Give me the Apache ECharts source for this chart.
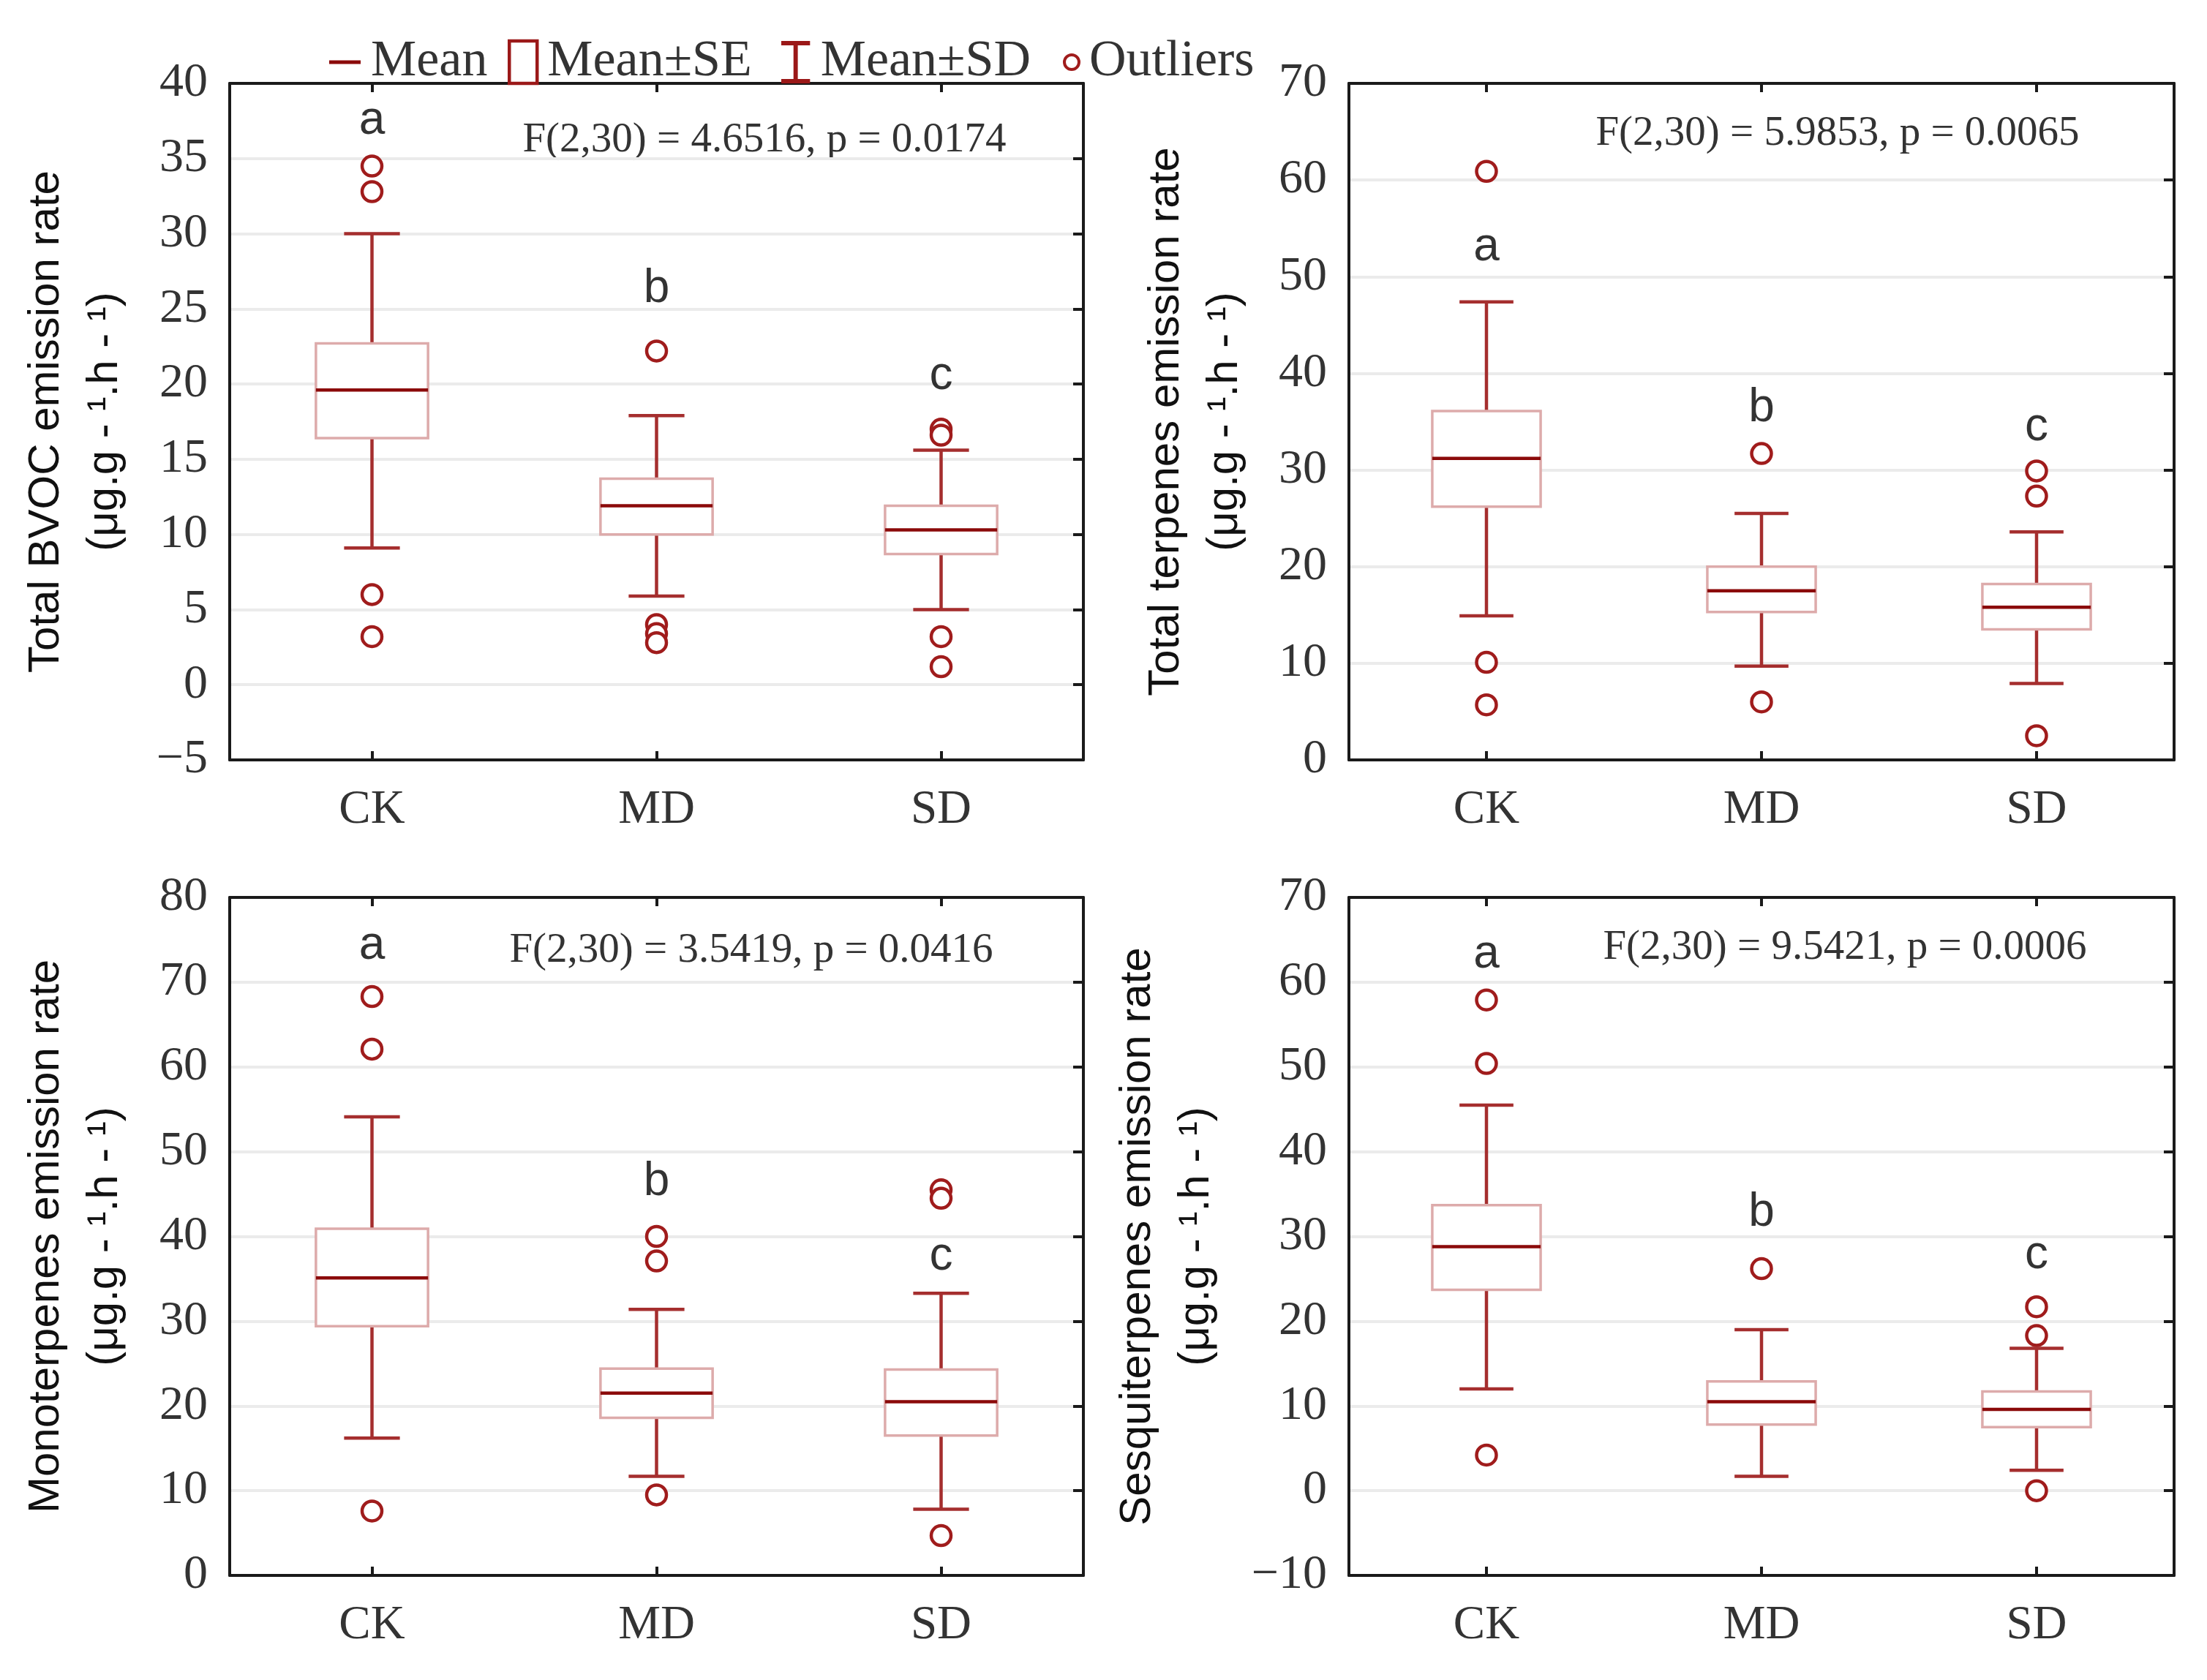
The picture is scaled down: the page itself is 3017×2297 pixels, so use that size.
<!DOCTYPE html>
<html>
<head>
<meta charset="utf-8">
<script src="https://cdn.jsdelivr.net/npm/echarts@6/dist/echarts.min.js"></script>
<style>
  html, body { margin: 0; padding: 0; background: #fff; }
  #chart { width: 3017px; height: 2297px; }
</style>
</head>
<body>
<div id="chart"></div>
<script>
const categories = ['CK', 'MD', 'SD'];
const groupLetters = ['a', 'b', 'c'];

// Total BVOC
const bvocMean = [19.6, 11.9, 10.3];
const bvocSeLow = [16.4, 10.0, 8.7];
const bvocSeHigh = [22.7, 13.7, 11.9];
const bvocSdLow = [9.1, 5.9, 5.0];
const bvocSdHigh = [30.0, 17.9, 15.6];
const bvocOutliers = [[34.5, 32.8, 6.0, 3.2], [22.2, 4.0, 3.4, 2.8], [17.0, 16.6, 3.2, 1.2]];
const bvocLetterY = [37.5, 26.3, 20.5];

// Total terpenes
const terpMean = [31.2, 17.5, 15.8];
const terpSeLow = [26.2, 15.3, 13.5];
const terpSeHigh = [36.1, 20.0, 18.2];
const terpSdLow = [14.9, 9.7, 7.9];
const terpSdHigh = [47.4, 25.5, 23.6];
const terpOutliers = [[60.9, 10.1, 5.7], [31.7, 6.0], [29.9, 27.3, 2.5]];
const terpLetterY = [53.0, 36.4, 34.4];

// Monoterpenes
const monoMean = [35.1, 21.5, 20.5];
const monoSeLow = [29.4, 18.6, 16.5];
const monoSeHigh = [40.9, 24.4, 24.3];
const monoSdLow = [16.2, 11.7, 7.8];
const monoSdHigh = [54.1, 31.4, 33.3];
const monoOutliers = [[68.3, 62.1, 7.6], [40.0, 37.1, 9.5], [45.5, 44.5, 4.7]];
const monoLetterY = [74.3, 46.4, 37.6];

// Sesquiterpenes
const sesqMean = [28.8, 10.5, 9.6];
const sesqSeLow = [23.7, 7.8, 7.5];
const sesqSeHigh = [33.7, 12.9, 11.7];
const sesqSdLow = [12.0, 1.7, 2.4];
const sesqSdHigh = [45.5, 19.0, 16.8];
const sesqOutliers = [[57.9, 50.4, 4.2], [26.2], [21.7, 18.3, 0.0]];
const sesqLetterY = [63.2, 32.8, 27.8];

// axis ranges
const yMins = [-5, 0, 0, -10];
const yMaxs = [40, 70, 80, 70];
const yIntervals = [5, 10, 10, 10];

const yTitles = [
  'Total BVOC emission rate\n(μg.g - ¹.h - ¹)',
  'Total terpenes emission rate\n(μg.g - ¹.h - ¹)',
  'Monoterpenes emission rate\n(μg.g - ¹.h - ¹)',
  'Sesquiterpenes emission rate\n(μg.g - ¹.h - ¹)'
];
const statTexts = [
  'F(2,30) = 4.6516, p = 0.0174',
  'F(2,30) = 5.9853, p = 0.0065',
  'F(2,30) = 3.5419, p = 0.0416',
  'F(2,30) = 9.5421, p = 0.0006'
];

const panels = [
  { mean: bvocMean, seLow: bvocSeLow, seHigh: bvocSeHigh, sdLow: bvocSdLow, sdHigh: bvocSdHigh, out: bvocOutliers, letterY: bvocLetterY },
  { mean: terpMean, seLow: terpSeLow, seHigh: terpSeHigh, sdLow: terpSdLow, sdHigh: terpSdHigh, out: terpOutliers, letterY: terpLetterY },
  { mean: monoMean, seLow: monoSeLow, seHigh: monoSeHigh, sdLow: monoSdLow, sdHigh: monoSdHigh, out: monoOutliers, letterY: monoLetterY },
  { mean: sesqMean, seLow: sesqSeLow, seHigh: sesqSeHigh, sdLow: sesqSdLow, sdHigh: sesqSdHigh, out: sesqOutliers, letterY: sesqLetterY }
];

// layout
const grids = [
  { left: 314, top: 114, width: 1167, height: 925 },
  { left: 1844, top: 114, width: 1128, height: 925 },
  { left: 314, top: 1227, width: 1167, height: 927 },
  { left: 1844, top: 1227, width: 1128, height: 927 }
];
const nameGaps = [131, 130, 131, 169];
const statPos = [[1045, 192], [2512, 183], [1027, 1300], [2522, 1296]];

const SERIF = 'Liberation Serif';
const SANS = 'Liberation Sans';
const FRAME = '#1a1a1a';
const DARK_RED = '#8b0a0a';
const WHISKER = '#a52e2e';
const BOX_EDGE = '#ddabab';
const OUTLIER = '#a01c1c';
const BOX_RATIO = 0.394;
const CAP_RATIO = 0.196;

const legendText = { fontFamily: SERIF, fontSize: 70, color: '#333', padding: [0, 0, 0, 9] };

const option = {
  backgroundColor: '#fff',
  animation: false,
  grid: [],
  xAxis: [],
  yAxis: [],
  series: [],
  legend: [
    {
      left: 450, top: 50, padding: 0, selectedMode: false,
      itemWidth: 43, itemHeight: 5, textStyle: legendText,
      data: [{ name: 'Mean', icon: 'rect', itemStyle: { color: DARK_RED, borderWidth: 0 } }]
    },
    {
      left: 694, top: 50, padding: 0, selectedMode: false,
      itemWidth: 38, itemHeight: 58, textStyle: legendText,
      data: [{ name: 'Mean±SE', icon: 'rect', itemStyle: { color: '#fff', borderColor: '#9b1818', borderWidth: 4.5 } }]
    },
    {
      left: 1068, top: 50, padding: 0, selectedMode: false,
      itemWidth: 40, itemHeight: 58, textStyle: legendText,
      data: [{ name: 'Mean±SD', icon: 'path://M0,0 H40 V6 H23 V53 H40 V59 H0 V53 H17 V6 H0 Z', itemStyle: { color: '#9b1818', borderWidth: 0 } }]
    },
    {
      left: 1453, top: 50, padding: 0, selectedMode: false,
      itemWidth: 20, itemHeight: 20, textStyle: legendText,
      data: [{ name: 'Outliers', icon: 'circle', itemStyle: { color: '#fff', borderColor: OUTLIER, borderWidth: 4 } }]
    }
  ],
  graphic: []
};

panels.forEach((p, i) => {
  const g = grids[i];
  option.grid.push(Object.assign({ outerBoundsMode: 'none', containLabel: false }, g));

  option.xAxis.push({
    type: 'category', gridIndex: i, position: 'bottom', data: categories, boundaryGap: true,
    axisLine: { show: true, onZero: false, lineStyle: { color: FRAME, width: 4 } },
    axisTick: { show: true, inside: true, alignWithLabel: true, length: 12, lineStyle: { color: FRAME, width: 4 } },
    axisLabel: { fontFamily: SERIF, fontSize: 65, color: '#333', margin: 36 },
    splitLine: { show: false }
  });
  option.xAxis.push({
    type: 'category', gridIndex: i, position: 'top', data: categories, boundaryGap: true,
    axisLine: { show: true, onZero: false, lineStyle: { color: FRAME, width: 4 } },
    axisTick: { show: true, inside: true, alignWithLabel: true, length: 12, lineStyle: { color: FRAME, width: 4 } },
    axisLabel: { show: false },
    splitLine: { show: false }
  });

  option.yAxis.push({
    type: 'value', gridIndex: i, position: 'left',
    min: yMins[i], max: yMaxs[i], interval: yIntervals[i],
    name: yTitles[i], nameLocation: 'middle', nameRotate: 90, nameGap: nameGaps[i],
    nameTextStyle: { fontFamily: SANS, fontSize: 60, color: '#111', lineHeight: 80, align: 'center' },
    axisLine: { show: true, onZero: false, lineStyle: { color: FRAME, width: 4 } },
    axisTick: { show: false },
    axisLabel: {
      fontFamily: SERIF, fontSize: 66, color: '#333', margin: 30,
      formatter: v => String(v).replace('-', '\u2212')
    },
    splitLine: { show: true, lineStyle: { color: '#ebebeb', width: 4 } }
  });
  option.yAxis.push({
    type: 'value', gridIndex: i, position: 'right',
    min: yMins[i], max: yMaxs[i], interval: yIntervals[i],
    axisLine: { show: true, onZero: false, lineStyle: { color: FRAME, width: 4 } },
    axisTick: { show: true, inside: true, length: 14, lineStyle: { color: FRAME, width: 4 } },
    axisLabel: { show: false },
    splitLine: { show: false }
  });

  const xi = 2 * i;
  const yi = 2 * i;

  option.series.push({
    name: 'Mean±SD', type: 'custom', xAxisIndex: xi, yAxisIndex: yi, z: 2,
    data: categories.map((c, k) => [k, p.sdLow[k], p.sdHigh[k]]),
    renderItem: (params, api) => {
      const x = api.value(0);
      const lo = api.coord([x, api.value(1)]);
      const hi = api.coord([x, api.value(2)]);
      const half = api.size([1, 0])[0] * CAP_RATIO / 2;
      const st = { stroke: WHISKER, lineWidth: 4.5 };
      return {
        type: 'group',
        children: [
          { type: 'line', shape: { x1: lo[0], y1: lo[1], x2: hi[0], y2: hi[1] }, style: st },
          { type: 'line', shape: { x1: lo[0] - half, y1: lo[1], x2: lo[0] + half, y2: lo[1] }, style: st },
          { type: 'line', shape: { x1: hi[0] - half, y1: hi[1], x2: hi[0] + half, y2: hi[1] }, style: st }
        ]
      };
    }
  });

  option.series.push({
    name: 'Mean±SE', type: 'custom', xAxisIndex: xi, yAxisIndex: yi, z: 3,
    data: categories.map((c, k) => [k, p.seLow[k], p.seHigh[k]]),
    renderItem: (params, api) => {
      const x = api.value(0);
      const top = api.coord([x, api.value(2)]);
      const bot = api.coord([x, api.value(1)]);
      const w = api.size([1, 0])[0] * BOX_RATIO;
      return {
        type: 'rect',
        shape: { x: top[0] - w / 2, y: top[1], width: w, height: bot[1] - top[1] },
        style: { fill: '#fff', stroke: BOX_EDGE, lineWidth: 3.5 }
      };
    }
  });

  option.series.push({
    name: 'Mean', type: 'custom', xAxisIndex: xi, yAxisIndex: yi, z: 4,
    data: categories.map((c, k) => [k, p.mean[k]]),
    renderItem: (params, api) => {
      const pt = api.coord([api.value(0), api.value(1)]);
      const w = api.size([1, 0])[0] * BOX_RATIO;
      return {
        type: 'line',
        shape: { x1: pt[0] - w / 2, y1: pt[1], x2: pt[0] + w / 2, y2: pt[1] },
        style: { stroke: DARK_RED, lineWidth: 4.5 }
      };
    }
  });

  const outPts = [];
  p.out.forEach((vals, k) => vals.forEach(v => outPts.push([k, v])));
  option.series.push({
    name: 'Outliers', type: 'scatter', xAxisIndex: xi, yAxisIndex: yi, z: 5,
    symbol: 'circle', symbolSize: 27,
    itemStyle: { color: '#fff', borderColor: OUTLIER, borderWidth: 4.5, opacity: 1 },
    data: outPts
  });

  option.series.push({
    name: 'Letters', type: 'scatter', xAxisIndex: xi, yAxisIndex: yi, z: 6,
    symbol: 'circle', symbolSize: 0, silent: true,
    data: categories.map((c, k) => [k, p.letterY[k]]),
    label: {
      show: true, position: 'inside',
      formatter: prm => groupLetters[prm.dataIndex],
      fontFamily: SANS, fontSize: 64, color: '#000'
    }
  });

  option.graphic.push({
    type: 'text', x: statPos[i][0], y: statPos[i][1],
    style: {
      text: statTexts[i], fill: '#333',
      fontFamily: SERIF, fontSize: 57,
      align: 'center', verticalAlign: 'middle'
    }
  });
});

const chart = echarts.init(document.getElementById('chart'));
chart.setOption(option);
</script>
</body>
</html>
